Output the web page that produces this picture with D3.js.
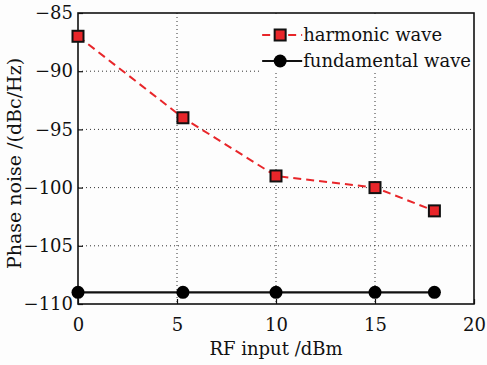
<!DOCTYPE html>
<html>
<head>
<meta charset="utf-8">
<script src="https://cdn.jsdelivr.net/npm/d3@7"></script>
<style>
  body { margin: 0; background: #fdfdfd; }
  svg text { font-family: "DejaVu Serif", serif; fill: #111; }
</style>
</head>
<body>
<div id="chart"></div>
<script>
// data
const rfInput = [0, 5.3, 10, 15, 18];
const harmonicNoise = [-87, -94, -99, -100, -102];
const fundamentalNoise = [-109, -109, -109, -109, -109];
const xTicks = [0, 5, 10, 15, 20];
const yTicks = [-85, -90, -95, -100, -105, -110];
const seriesNames = ["harmonic wave", "fundamental wave"];

const W = 487, H = 365;
const margin = { top: 13, right: 13, bottom: 61, left: 78 };
const width = W - margin.left - margin.right,
  height = H - margin.top - margin.bottom;

const svg = d3.select("#chart")
  .append("svg")
  .attr("width", W)
  .attr("height", H)
  .append("g")
  .attr("transform", "translate(" + margin.left + "," + margin.top + ")");

const x = d3.scaleLinear().domain([0, 20]).range([0, width]);
const y = d3.scaleLinear().domain([-110, -85]).range([height, 0]);

const fmt = d => String(d).replace("-", "\u2212");

// dotted grid
svg.append("g")
  .selectAll("line")
  .data(xTicks.slice(1, -1))
  .enter().append("line")
  .attr("x1", d => x(d)).attr("x2", d => x(d))
  .attr("y1", 0).attr("y2", height)
  .attr("stroke", "#333").attr("stroke-width", 1)
  .attr("stroke-dasharray", "1,3");
svg.append("g")
  .selectAll("line")
  .data(yTicks.slice(1, -1))
  .enter().append("line")
  .attr("x1", 0).attr("x2", width)
  .attr("y1", d => y(d)).attr("y2", d => y(d))
  .attr("stroke", "#333").attr("stroke-width", 1)
  .attr("stroke-dasharray", "1,3");

// axes with inward ticks
const xAxis = svg.append("g")
  .attr("transform", "translate(0," + height + ")")
  .call(d3.axisBottom(x).tickValues(xTicks).tickSize(-5).tickPadding(14).tickFormat(fmt));
const yAxis = svg.append("g")
  .call(d3.axisLeft(y).tickValues(yTicks).tickSize(-5).tickPadding(5).tickFormat(fmt));
[xAxis, yAxis].forEach(a => {
  a.select(".domain").remove();
  a.selectAll(".tick line").attr("stroke", "#111").attr("stroke-width", 1.2);
  a.selectAll("text").style("font-size", "18px").attr("fill", "#111");
});

// frame
svg.append("rect")
  .attr("width", width).attr("height", height)
  .attr("fill", "none").attr("stroke", "#111").attr("stroke-width", 1.6);

// legend background (covers grid)
const leg = svg.append("g").attr("transform", "translate(" + x(9.2) + ",1)");
leg.append("rect")
  .attr("width", width - x(9.2) - 1).attr("height", 58)
  .attr("fill", "#fdfdfd");

// lines
const line = d3.line().x(d => x(d[0])).y(d => y(d[1]));
const harm = d3.zip(rfInput, harmonicNoise);
const fund = d3.zip(rfInput, fundamentalNoise);

svg.append("path").datum(fund).attr("d", line)
  .attr("fill", "none").attr("stroke", "#111").attr("stroke-width", 2.2);
svg.append("path").datum(harm).attr("d", line)
  .attr("fill", "none").attr("stroke", "#e8262a").attr("stroke-width", 2)
  .attr("stroke-dasharray", "8,5");

svg.selectAll(".fund").data(fund).enter().append("circle")
  .attr("cx", d => x(d[0])).attr("cy", d => y(d[1])).attr("r", 6.5)
  .attr("fill", "#000");
svg.selectAll(".harm").data(harm).enter().append("rect")
  .attr("x", d => x(d[0]) - 5.5).attr("y", d => y(d[1]) - 5.5)
  .attr("width", 11).attr("height", 11)
  .attr("fill", "#e8262a").attr("stroke", "#111").attr("stroke-width", 2);

// legend entries
const lx0 = 2, lx1 = 42, lmid = 20;
const r1 = 21, r2 = 47;
leg.append("line").attr("x1", lx0).attr("x2", lx1).attr("y1", r1).attr("y2", r1)
  .attr("stroke", "#e8262a").attr("stroke-width", 2).attr("stroke-dasharray", "8,5");
leg.append("rect").attr("x", lmid - 5.5).attr("y", r1 - 5.5).attr("width", 11).attr("height", 11)
  .attr("fill", "#e8262a").attr("stroke", "#111").attr("stroke-width", 2);
leg.append("line").attr("x1", lx0).attr("x2", lx1).attr("y1", r2).attr("y2", r2)
  .attr("stroke", "#111").attr("stroke-width", 2.2);
leg.append("circle").attr("cx", lmid).attr("cy", r2).attr("r", 6.5).attr("fill", "#000");
leg.selectAll(".lt").data(seriesNames).enter().append("text")
  .attr("x", lx1 + 1).attr("y", (d, i) => (i === 0 ? r1 : r2) + 6)
  .style("font-size", "18px")
  .text(d => d);

// axis titles
svg.append("text")
  .attr("x", width / 2).attr("y", height + 51)
  .attr("text-anchor", "middle").style("font-size", "18px")
  .text("RF input /dBm");
svg.append("text")
  .attr("transform", "translate(-57," + (height / 2 + 5) + ") rotate(-90)")
  .attr("text-anchor", "middle").style("font-size", "19px")
  .text("Phase noise /(dBc/Hz)");
</script>
</body>
</html>
